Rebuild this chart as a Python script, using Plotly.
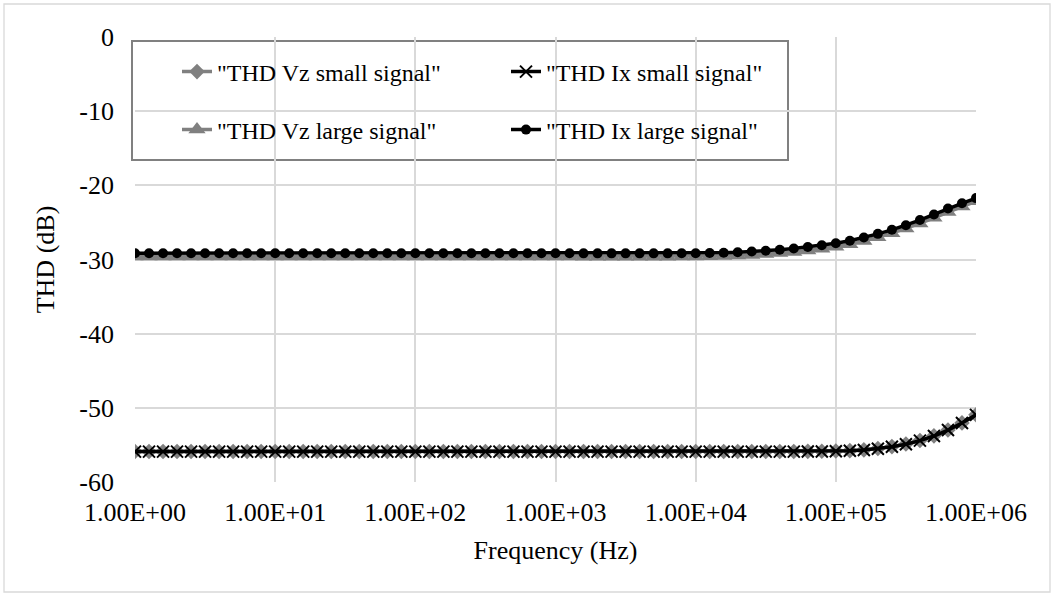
import plotly.graph_objects as go

# Frequency sweep, 10 points per decade (Hz)
freq = [
    1.0, 1.259, 1.585, 1.995, 2.512, 3.162, 3.981, 5.012, 6.310, 7.943,
    10.0, 12.59, 15.85, 19.95, 25.12, 31.62, 39.81, 50.12, 63.10, 79.43,
    100.0, 125.9, 158.5, 199.5, 251.2, 316.2, 398.1, 501.2, 631.0, 794.3,
    1000.0, 1259.0, 1585.0, 1995.0, 2512.0, 3162.0, 3981.0, 5012.0, 6310.0, 7943.0,
    10000.0, 12590.0, 15850.0, 19950.0, 25120.0, 31620.0, 39810.0, 50120.0, 63100.0, 79430.0,
    100000.0, 125900.0, 158500.0, 199500.0, 251200.0, 316200.0, 398100.0, 501200.0, 631000.0, 794300.0,
    1000000.0,
]

# THD of Ix, large signal (dB)
thd_ix_large = [
    -29.15, -29.15, -29.15, -29.15, -29.15, -29.15, -29.15, -29.15, -29.15, -29.15,
    -29.15, -29.15, -29.15, -29.15, -29.15, -29.15, -29.15, -29.15, -29.15, -29.15,
    -29.15, -29.15, -29.15, -29.15, -29.15, -29.15, -29.15, -29.15, -29.15, -29.15,
    -29.16, -29.16, -29.17, -29.17, -29.17, -29.17, -29.17, -29.17, -29.17, -29.16,
    -29.15, -29.12, -29.08, -29.02, -28.93, -28.81, -28.68, -28.52, -28.32, -28.09,
    -27.82, -27.47, -27.04, -26.54, -26.00, -25.38, -24.68, -23.93, -23.13, -22.42,
    -21.72,
]

# THD of Vz, large signal (dB)
thd_vz_large = [
    -29.60, -29.60, -29.60, -29.60, -29.60, -29.60, -29.60, -29.60, -29.60, -29.60,
    -29.60, -29.60, -29.60, -29.60, -29.60, -29.60, -29.60, -29.60, -29.60, -29.60,
    -29.60, -29.60, -29.60, -29.60, -29.60, -29.60, -29.60, -29.60, -29.60, -29.60,
    -29.61, -29.61, -29.62, -29.62, -29.62, -29.62, -29.62, -29.62, -29.62, -29.61,
    -29.60, -29.57, -29.53, -29.47, -29.38, -29.27, -29.14, -28.98, -28.78, -28.55,
    -28.28, -27.93, -27.50, -27.00, -26.45, -25.83, -25.13, -24.38, -23.58, -22.86,
    -22.15,
]

# THD of Ix, small signal (dB)
thd_ix_small = [
    -55.90, -55.90, -55.90, -55.90, -55.90, -55.90, -55.90, -55.90, -55.90, -55.90,
    -55.90, -55.90, -55.90, -55.90, -55.90, -55.90, -55.90, -55.90, -55.90, -55.90,
    -55.90, -55.90, -55.90, -55.90, -55.90, -55.90, -55.90, -55.90, -55.90, -55.90,
    -55.90, -55.90, -55.90, -55.90, -55.90, -55.90, -55.90, -55.90, -55.90, -55.90,
    -55.90, -55.90, -55.90, -55.90, -55.90, -55.90, -55.90, -55.90, -55.89, -55.88,
    -55.85, -55.79, -55.69, -55.51, -55.25, -54.90, -54.42, -53.80, -53.00, -52.05,
    -50.95,
]

# THD of Vz, small signal (dB)
thd_vz_small = [
    -55.88, -55.88, -55.88, -55.88, -55.88, -55.88, -55.88, -55.88, -55.88, -55.88,
    -55.88, -55.88, -55.88, -55.88, -55.88, -55.88, -55.88, -55.88, -55.88, -55.88,
    -55.88, -55.88, -55.88, -55.88, -55.88, -55.88, -55.88, -55.88, -55.88, -55.88,
    -55.88, -55.88, -55.88, -55.88, -55.88, -55.88, -55.88, -55.88, -55.88, -55.88,
    -55.88, -55.88, -55.88, -55.88, -55.88, -55.88, -55.88, -55.88, -55.87, -55.86,
    -55.83, -55.77, -55.67, -55.49, -55.23, -54.88, -54.40, -53.78, -52.98, -52.03,
    -50.93,
]

x_tickvals = [1, 10, 100, 1000, 10000, 100000, 1000000]
x_ticktext = ["1.00E+00", "1.00E+01", "1.00E+02", "1.00E+03", "1.00E+04", "1.00E+05", "1.00E+06"]
y_tickvals = [0, -10, -20, -30, -40, -50, -60]
y_ticktext = ["0", "-10", "-20", "-30", "-40", "-50", "-60"]

FONT = "Liberation Serif"
GRAY = "#808080"
GRID = "#d9d9d9"

W, H = 1055, 597
ML, MR, MT, MB = 135, 79, 37, 115
PW, PH = W - ML - MR, H - MT - MB


def px_x(p):
    return (p - ML) / PW


def px_y(p):
    return 1 - (p - MT) / PH


fig = go.Figure()

fig.add_trace(go.Scatter(
    x=freq, y=thd_vz_small, mode="lines+markers", name='"THD Vz small signal"',
    line=dict(color=GRAY, width=3.5),
    marker=dict(symbol="diamond", size=12, color=GRAY),
    legend="legend",
))
fig.add_trace(go.Scatter(
    x=freq, y=thd_ix_small, mode="lines+markers", name='"THD Ix small signal"',
    line=dict(color="black", width=3.5),
    marker=dict(symbol="x-thin", size=12, color="black", line=dict(color="black", width=2)),
    legend="legend",
))
fig.add_trace(go.Scatter(
    x=freq, y=thd_vz_large, mode="lines+markers", name='"THD Vz large signal"',
    line=dict(color=GRAY, width=3.5),
    marker=dict(symbol="triangle-up", size=15, color=GRAY),
    legend="legend2",
))
fig.add_trace(go.Scatter(
    x=freq, y=thd_ix_large, mode="lines+markers", name='"THD Ix large signal"',
    line=dict(color="black", width=3.5),
    marker=dict(symbol="circle", size=10, color="black"),
    legend="legend2",
))

legend_common = dict(
    orientation="h",
    xanchor="left",
    yanchor="middle",
    bgcolor="rgba(0,0,0,0)",
    borderwidth=0,
    font=dict(family=FONT, size=24, color="black"),
    entrywidth=284,
    itemclick=False,
)

fig.update_layout(
    width=W,
    height=H,
    margin=dict(l=ML, r=MR, t=MT, b=MB),
    paper_bgcolor="white",
    plot_bgcolor="white",
    font=dict(family=FONT, size=26, color="black"),
    showlegend=True,
    legend=dict(x=px_x(177), y=px_y(72), **legend_common),
    legend2=dict(x=px_x(177), y=px_y(130), **legend_common),
    xaxis=dict(
        type="log",
        range=[0, 6],
        tickvals=x_tickvals,
        ticktext=x_ticktext,
        showgrid=True,
        gridcolor=GRID,
        gridwidth=1.5,
        showline=False,
        zeroline=False,
        ticks="",
        ticklabelstandoff=12,
        tickfont=dict(family=FONT, size=26, color="black"),
        title=dict(text="Frequency (Hz)", font=dict(family=FONT, size=26, color="black"), standoff=14),
    ),
    yaxis=dict(
        range=[-60, 0],
        tickvals=y_tickvals,
        ticktext=y_ticktext,
        showgrid=True,
        gridcolor=GRID,
        gridwidth=1.5,
        showline=False,
        zeroline=False,
        ticks="",
        ticklabelstandoff=20,
        tickfont=dict(family=FONT, size=26, color="black"),
        title=dict(text="THD (dB)", font=dict(family=FONT, size=26, color="black"), standoff=17),
    ),
    shapes=[
        # legend box
        dict(
            type="rect", xref="paper", yref="paper", layer="between",
            x0=px_x(132), x1=px_x(788), y0=px_y(160), y1=px_y(41),
            fillcolor="white", line=dict(color=GRAY, width=2),
        ),
        # chart-area border
        dict(
            type="rect", xref="paper", yref="paper", layer="below",
            x0=px_x(4), x1=px_x(1050), y0=px_y(592), y1=px_y(4),
            fillcolor="rgba(0,0,0,0)", line=dict(color=GRID, width=1.3),
        ),
    ],
)

fig.write_html("out.html")
